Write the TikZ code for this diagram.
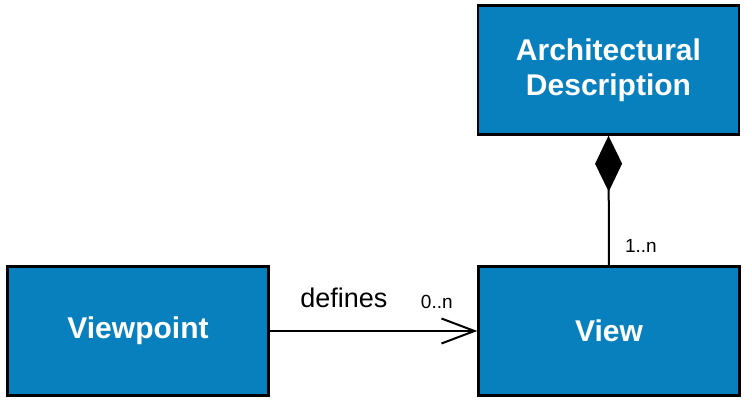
\documentclass[tikz,border=0pt]{standalone}
\usepackage{fontspec}
\setmainfont{Liberation Sans}
\usepackage{tikz}
\usetikzlibrary{arrows.meta,positioning}
\definecolor{boxblue}{RGB}{8,128,190}

\begin{document}
\begin{tikzpicture}[
  x=0.5pt, y=-0.5pt,
  every node/.style={inner sep=1.5pt},
  umlbox/.style={draw=black, line width=1.2pt, fill=boxblue, text=white,
    minimum width=130.5pt, minimum height=64.5pt, align=center,
    font=\bfseries\fontsize{15}{17.5}\selectfont},
  assoc/.style={line width=1pt, -{Straight Barb[length=16.5pt,width=12.5pt,line width=1pt]}},
  comp/.style={line width=1pt, {Diamond[length=28pt,width=13.5pt]}-},
  mult/.style={font=\fontsize{9.5}{11}\selectfont, anchor=base}]

\useasboundingbox (0,0) rectangle (752,406);

% ----------------------------- classes --------------------------------
\node[umlbox] (archdesc) at (608.5,70) {Architectural\\Description};
\node[umlbox] (viewpoint) at (138,331) {Viewpoint};
\node[umlbox] (view) at (609,331) {View};

% ----------------------------- relations ------------------------------
\draw[assoc] (viewpoint) -- (view)
  node[pos=.357, anchor=base, yshift=11.5pt, font=\fontsize{13.5}{15}\selectfont] {defines}
  node[mult, pos=.805, yshift=11pt] {0..n};

\draw[comp] (archdesc.south) -- (view.north)
  node[mult, pos=.9, xshift=16pt] {1..n};

\end{tikzpicture}
\end{document}
